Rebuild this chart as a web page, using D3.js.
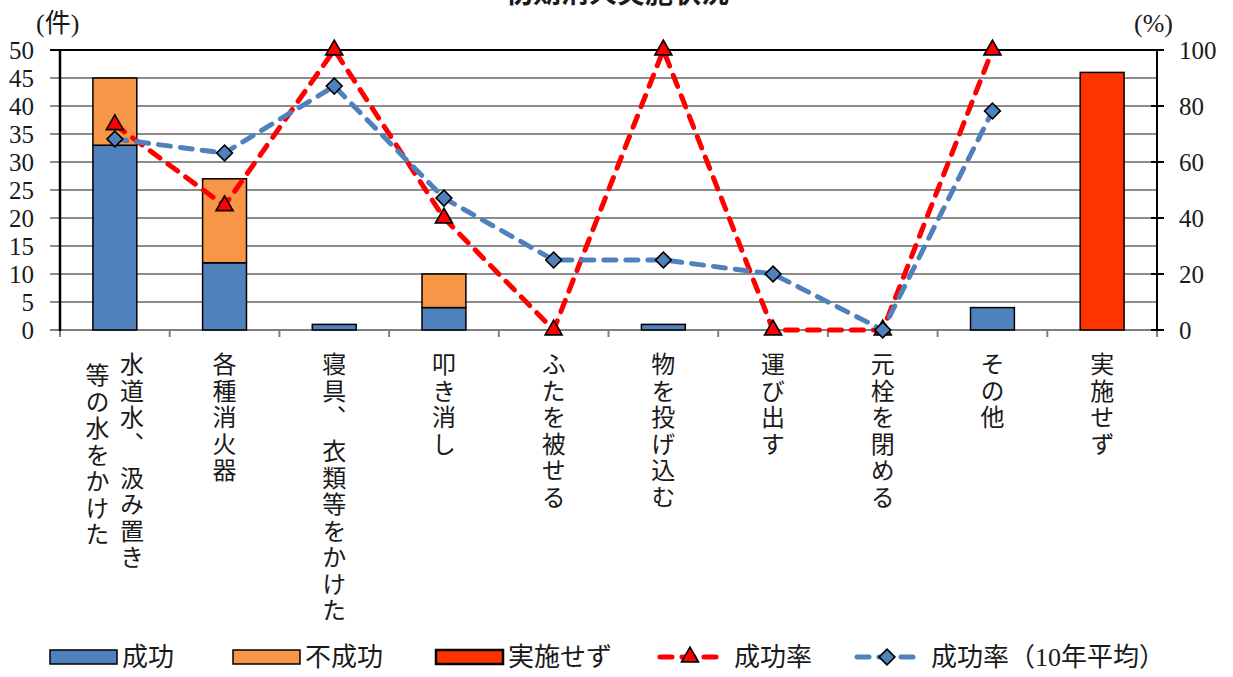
<!DOCTYPE html>
<html><head><meta charset="utf-8">
<script src="https://cdn.jsdelivr.net/npm/d3@7"></script>
<style>
html,body{margin:0;padding:0;background:#fff;}
svg{display:block;}
</style></head>
<body>
<svg id="chart" width="1233" height="677"></svg>
<script>
const title = "初期消火実施状況";
const categories = ["水道水、 汲み置き\n等の水をかけた","各種消火器","寝具、 衣類等をかけた","叩き消し","ふたを被せる","物を投げ込む","運び出す","元栓を閉める","その他","実施せず"];
const success    = [33,12,1,4,0,1,0,0,4,0];
const failure    = [12,15,0,6,0,0,0,0,0,0];
const notDone    = [0,0,0,0,0,0,0,0,0,46];
const rate       = [73.3,44.4,100,40,0,100,0,0,100,null];
const rate10     = [68.2,63.2,87.1,47.1,25,25,20,0,78.2,null];
const leftTicks  = [0,5,10,15,20,25,30,35,40,45,50];
const rightTicks = [0,20,40,60,80,100];
const legendLabels = ["成功","不成功","実施せず","成功率","成功率（10年平均）"];

const colors = {success:"#4f81bd", failure:"#f79646", notDone:"#ff3300", rate:"#ff0000", rate10:"#4f81bd"};
const SERIF = "'Liberation Serif','Noto Sans CJK JP',serif";
const CJK = "'Noto Sans CJK JP',sans-serif";

const svg = d3.select("#chart");
const L = 60, R = 1157, T = 50, B = 330;

const x = d3.scaleBand().domain(categories).range([L,R]).paddingInner(0.6).paddingOuter(0.3);
const yL = d3.scaleLinear().domain([0,50]).range([B,T]);
const yR = d3.scaleLinear().domain([0,100]).range([B,T]);
const cx = c => x(c) + x.bandwidth()/2;

function txt(sel){ return sel.attr("fill","#1a1a1a").style("font-family",SERIF); }

// title (cut off at top, as in the reference)
svg.append("text").attr("x",617).attr("y",3).attr("text-anchor","middle").attr("fill","#1a1a1a")
  .style("font-family",CJK).style("font-weight","bold")
  .style("font-size","28px").text(title);

// gridlines
const g = svg.append("g");
g.selectAll("line.grid").data(leftTicks.filter(d=>d>0 && d<50)).join("line")
  .attr("x1",L-10).attr("x2",R).attr("y1",d=>yL(d)).attr("y2",d=>yL(d))
  .attr("stroke","#8c8c8c").attr("stroke-width",2);
g.append("line").attr("x1",L-10).attr("x2",R).attr("y1",yL(50)).attr("y2",yL(50))
  .attr("stroke","#000").attr("stroke-width",2);
g.append("line").attr("x1",L-10).attr("x2",R).attr("y1",B).attr("y2",B)
  .attr("stroke","#7f7f7f").attr("stroke-width",2);
const bounds = categories.map(c=>cx(c)-x.step()/2).concat([cx(categories[categories.length-1])+x.step()/2]);
g.selectAll("line.ct").data(bounds).join("line")
  .attr("x1",d=>d).attr("x2",d=>d).attr("y1",B).attr("y2",B+7)
  .attr("stroke","#7f7f7f").attr("stroke-width",2);

// left axis
svg.append("line").attr("x1",L).attr("x2",L).attr("y1",T-1).attr("y2",B+1).attr("stroke","#000").attr("stroke-width",2.5);
txt(svg.selectAll("text.yl").data(leftTicks).join("text"))
  .attr("x",34).attr("y",d=>yL(d)).attr("dy","0.35em").attr("text-anchor","end")
  .style("font-size","25px").text(d=>d);
txt(svg.append("text")).attr("x",36).attr("y",23).attr("dy","0.35em").style("font-size","26px").text("(件)");

// right axis
svg.append("line").attr("x1",R).attr("x2",R).attr("y1",T-1).attr("y2",B+1).attr("stroke","#000").attr("stroke-width",2);
svg.selectAll("line.rt").data(rightTicks).join("line")
  .attr("x1",R-6).attr("x2",R+7).attr("y1",d=>yR(d)).attr("y2",d=>yR(d))
  .attr("stroke","#000").attr("stroke-width",2);
txt(svg.selectAll("text.yr").data(rightTicks).join("text"))
  .attr("x",1179).attr("y",d=>yR(d)).attr("dy","0.35em")
  .style("font-size","25px").text(d=>d);
txt(svg.append("text")).attr("x",1134).attr("y",23).attr("dy","0.35em").style("font-size","26px").text("(%)");

// bars
const bars = svg.append("g").attr("stroke","#000").attr("stroke-width",1.5);
categories.forEach((c,i)=>{
  if(success[i]>0) bars.append("rect").attr("x",x(c)).attr("width",x.bandwidth())
    .attr("y",yL(success[i])).attr("height",yL(0)-yL(success[i])).attr("fill",colors.success);
  if(failure[i]>0) bars.append("rect").attr("x",x(c)).attr("width",x.bandwidth())
    .attr("y",yL(success[i]+failure[i])).attr("height",yL(success[i])-yL(success[i]+failure[i])).attr("fill",colors.failure);
  if(notDone[i]>0) bars.append("rect").attr("x",x(c)).attr("width",x.bandwidth())
    .attr("y",yL(notDone[i])).attr("height",yL(0)-yL(notDone[i])).attr("fill",colors.notDone);
});

// lines
const tri = d3.symbol().type(d3.symbolTriangle).size(125);
const dia = d3.symbol().type(d3.symbolSquare).size(125);
const DASH = "12,10";
function series(vals,color,sym,rot){
  const pts = categories.map((c,i)=>[cx(c),vals[i]]).filter(d=>d[1]!=null);
  const line = d3.line().x(d=>d[0]).y(d=>yR(d[1]));
  svg.append("path").attr("d",line(pts)).attr("fill","none").attr("stroke",color)
    .attr("stroke-width",5).attr("stroke-dasharray",DASH).attr("stroke-linecap","round");
  svg.append("g").selectAll("path").data(pts).join("path")
    .attr("d",sym()).attr("transform",d=>`translate(${d[0]},${yR(d[1])}) rotate(${rot})`)
    .attr("fill",color).attr("stroke","#000").attr("stroke-width",1.6);
}
series(rate,colors.rate,tri,0);
series(rate10,colors.rate10,dia,45);

// category labels (vertical)
categories.forEach((c,i)=>{
  const lines = c.split("\n");
  const n = lines.length;
  lines.forEach((ln,j)=>{
    const colX = cx(c) + ((n-1)/2 - j)*34.5;
    svg.append("text").attr("x",colX).attr("y",352 + (j>0?11:0)).attr("fill","#1a1a1a")
      .style("writing-mode","vertical-rl").style("font-size","24px").style("letter-spacing","2.5px")
      .style("font-family",CJK)
      .text(ln);
  });
});

// legend
const ly = 657;
const lg = svg.append("g");
const rectItems = [[50,colors.success,1.5],[233,colors.failure,1.5],[436,colors.notDone,2.5]];
rectItems.forEach((r,k)=>{
  lg.append("rect").attr("x",r[0]).attr("y",ly-7).attr("width",67).attr("height",14)
    .attr("fill",r[1]).attr("stroke","#000").attr("stroke-width",r[2]);
  txt(lg.append("text")).attr("x",r[0]+72).attr("y",ly).attr("dy","0.36em")
    .style("font-size","26px").text(legendLabels[k]);
});
const lineItems = [[657,colors.rate,tri,0,3],[854,colors.rate10,dia,45,4]];
lineItems.forEach(li=>{
  lg.append("line").attr("x1",li[0]+3).attr("x2",li[0]+63).attr("y1",ly).attr("y2",ly)
    .attr("stroke",li[1]).attr("stroke-width",5).attr("stroke-dasharray",DASH).attr("stroke-linecap","round");
  lg.append("path").attr("d",li[2]()).attr("transform",`translate(${li[0]+33},${ly}) rotate(${li[3]})`)
    .attr("fill",li[1]).attr("stroke","#000").attr("stroke-width",1.6);
  txt(lg.append("text")).attr("x",li[0]+77).attr("y",ly).attr("dy","0.36em")
    .style("font-size","26px").text(legendLabels[li[4]]);
});
</script>
</body></html>
